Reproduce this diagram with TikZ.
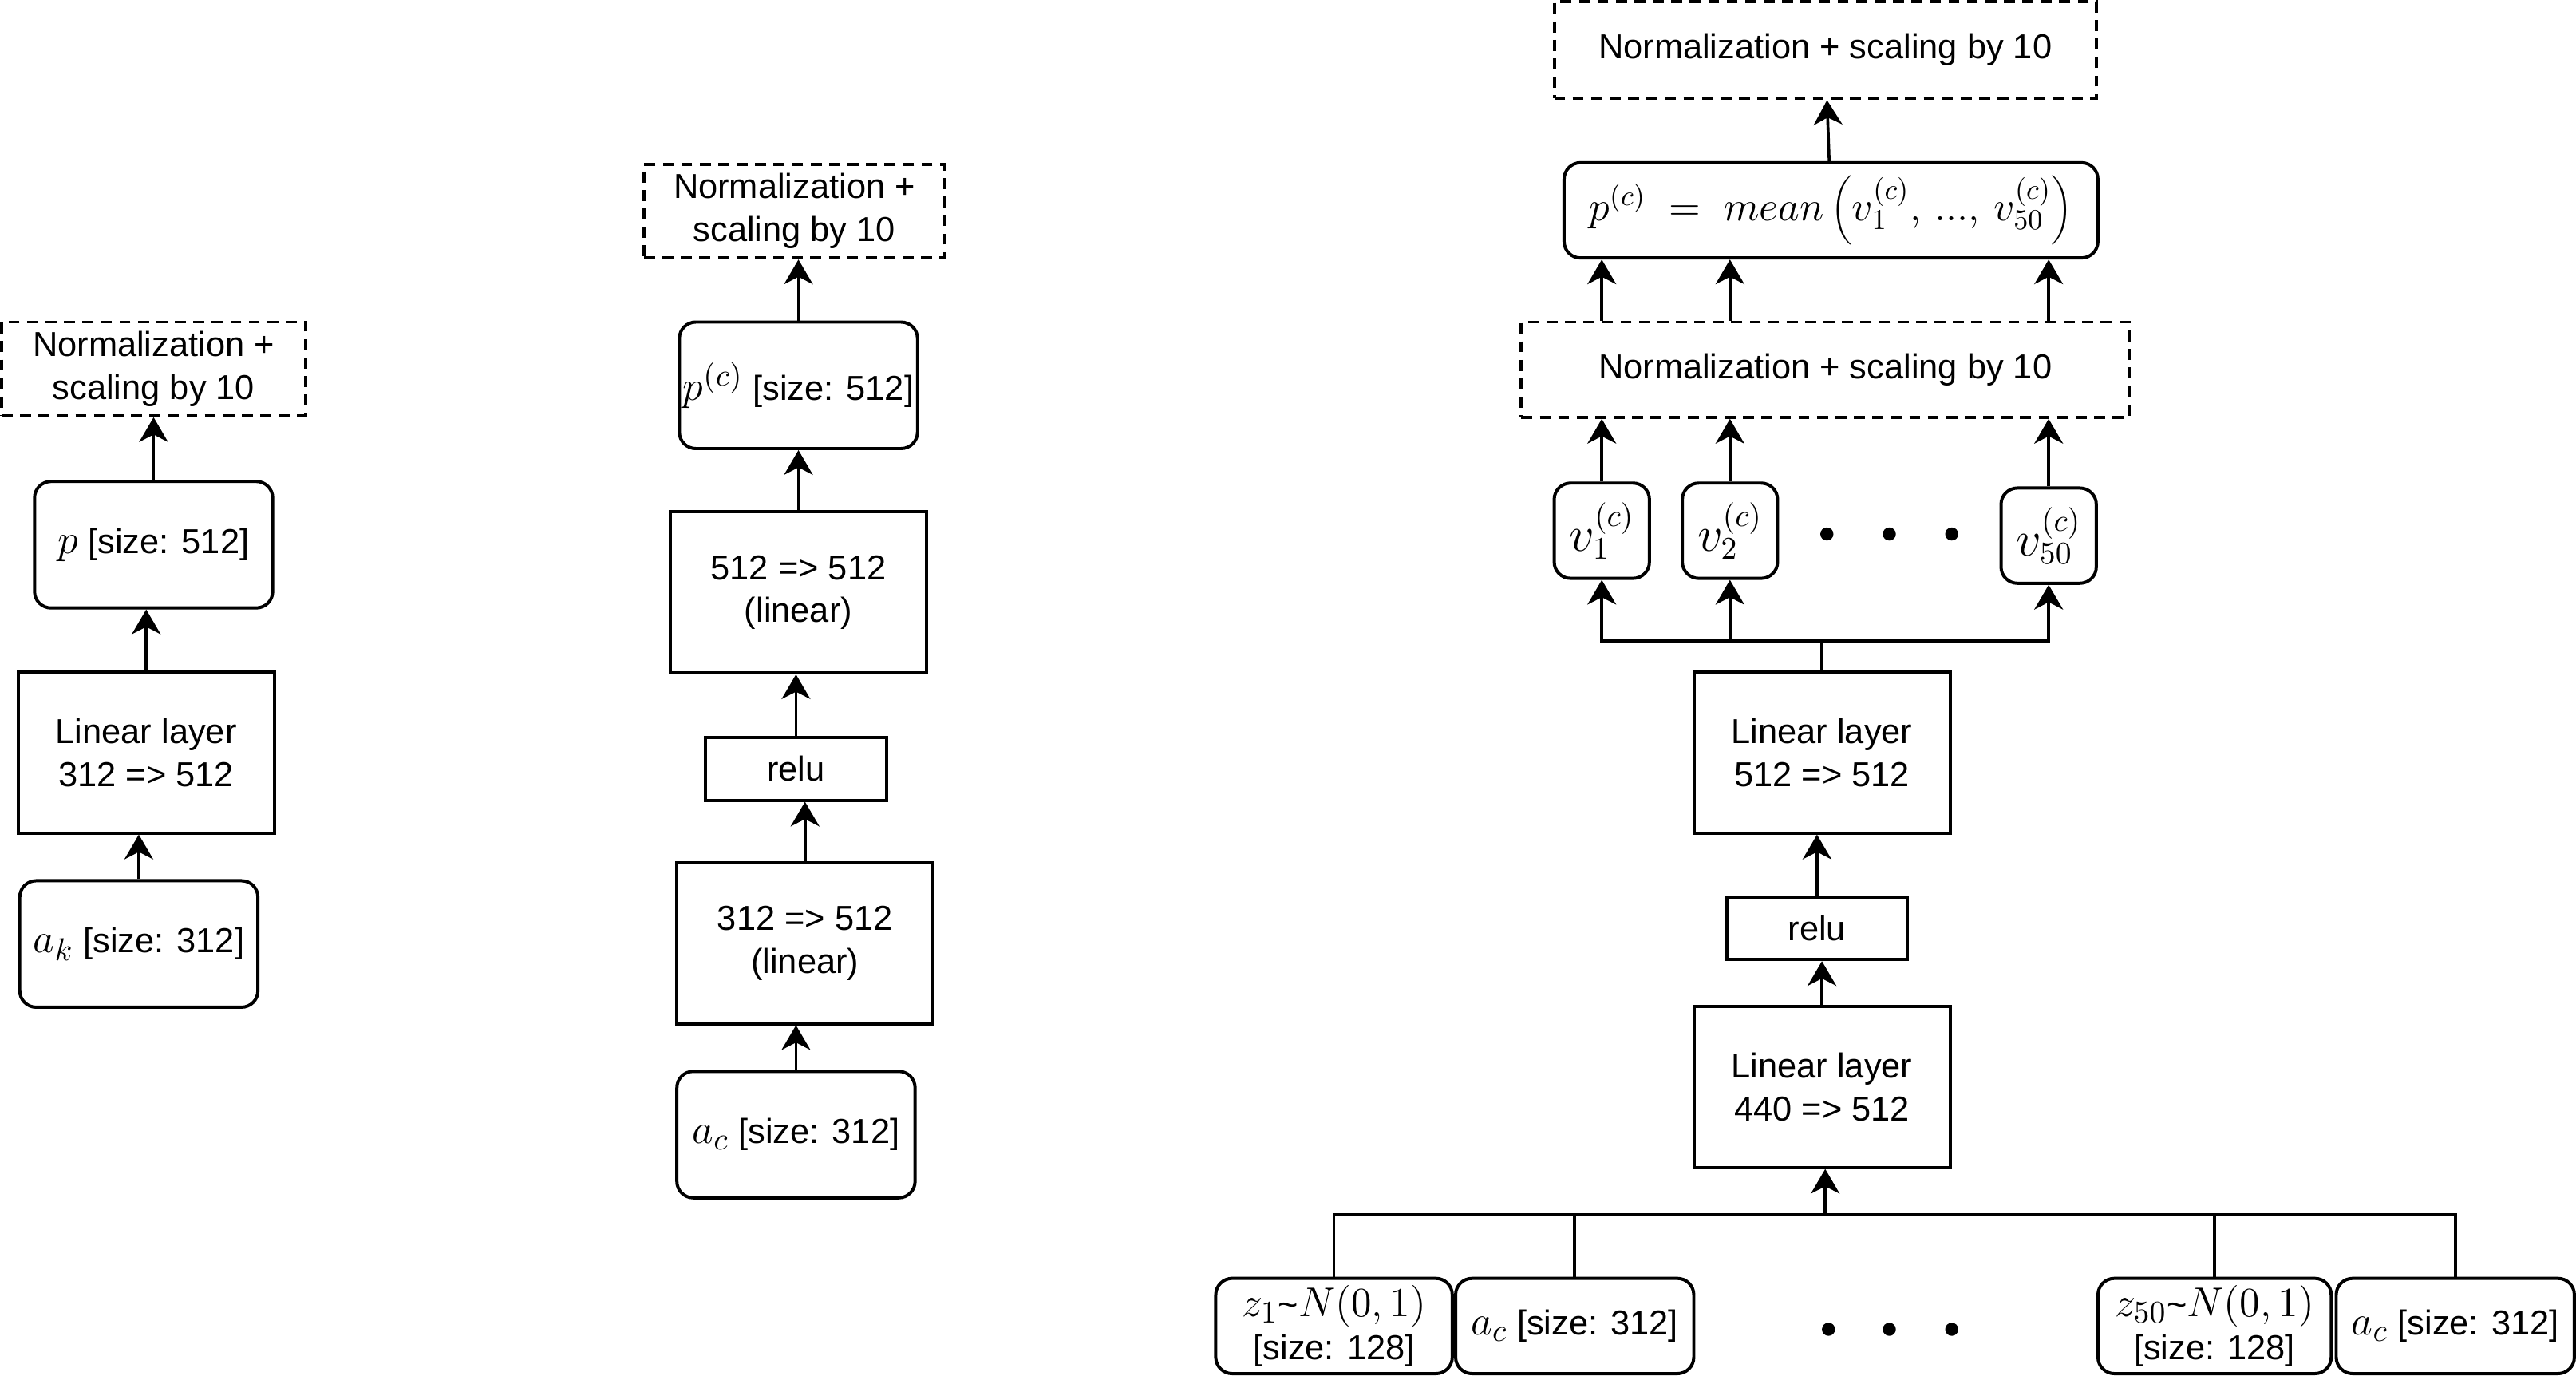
\documentclass[tikz,border=0pt]{standalone}
\usepackage[no-math]{fontspec}
\setmainfont{Liberation Sans}
\usetikzlibrary{arrows.meta}
\newcommand{\mth}[2][15]{{\fontsize{#1}{18}\selectfont$#2$}}
\begin{document}
\begin{tikzpicture}[x=0.02cm, y=-0.02cm,
  every node/.style={font=\fontsize{12}{14.8}\selectfont, align=center, inner sep=0pt},
  layerbox/.style={draw, line width=1.1pt, minimum width=3.12cm, minimum height=1.96cm},
  relubox/.style={draw, line width=1.1pt, minimum width=2.2cm, minimum height=0.76cm},
  valbox/.style={draw, line width=1.1pt, rounded corners=0.2cm, minimum width=2.9cm, minimum height=1.54cm},
  vecbox/.style={valbox, minimum width=1.16cm, minimum height=1.16cm},
  inbox/.style={valbox, minimum width=2.88cm, minimum height=1.16cm},
  normbox/.style={draw, line width=1.1pt, dash pattern=on 3.8pt off 2.6pt, minimum height=1.16cm},
  arr/.style={line width=1pt, -{Stealth[length=0.30cm, width=0.35cm, inset=0.09cm]}},
  link/.style={line width=1pt},
  dot/.style={circle, fill, minimum size=0.16cm},
]
\useasboundingbox (-1,-1) rectangle (1567,836);
% Left column
\node[normbox, minimum width=3.7cm, minimum height=1.14cm] (norm1) at (92.5,223.5) {Normalization +\\scaling by 10};
\node[valbox] (p) at (92.5,330.5) {\mth{p} [size: 512]};
\node[layerbox] (lin1) at (88,457) {Linear layer\\312 => 512};
\node[valbox] (ak) at (83.5,573.5) {\mth{a_k} [size: 312]};
\draw[arr] (ak) -- (ak |- lin1.south);
\draw[arr] (lin1) -- (lin1 |- p.south);
\draw[arr] (p) -- (p |- norm1.south);
% Middle column
\node[normbox, minimum width=3.66cm, minimum height=1.14cm] (norm2) at (482.5,127.5) {Normalization +\\scaling by 10};
\node[valbox] (pc) at (485,233.5) {\mth{p^{(c)}}\ [size: 512]};
\node[layerbox] (lin2b) at (485,359.5) {512 => 512\\(linear)};
\node[relubox] (relu1) at (483.5,467) {relu};
\node[layerbox] (lin2a) at (489,573) {312 => 512\\(linear)};
\node[valbox] (ac1) at (483.5,689.5) {\mth{a_c} [size: 312]};
\draw[arr] (ac1) -- (ac1 |- lin2a.south);
\draw[arr] (lin2a) -- (lin2a |- relu1.south);
\draw[arr] (relu1) -- (relu1 |- lin2b.south);
\draw[arr] (lin2b) -- (lin2b |- pc.south);
\draw[arr] (pc) -- (pc |- norm2.south);
% Right column
\node[normbox, minimum width=6.6cm, minimum height=1.18cm] (norm3top) at (1110,29.5) {Normalization + scaling by 10};
\node[valbox, minimum width=6.5cm, minimum height=1.16cm] (mean) at (1113.5,127) {\mth[14]{p^{(c)}\;=\;mean\left(v_1^{(c)},\,...,\,v_{50}^{(c)}\right)}};
\node[normbox, minimum width=7.4cm] (norm3) at (1110,224) {Normalization + scaling by 10};
\node[vecbox] (v1) at (974,322) {\mth[16]{v_1^{(c)}}};
\node[vecbox] (v2) at (1052,322) {\mth[16]{v_2^{(c)}}};
\node[vecbox] (v50) at (1246,325) {\mth[16]{v_{50}^{(c)}}};
\foreach \x in {1111,1149,1187}
  \node[dot] (vd\x) at (\x,324) {};
\node[layerbox] (lin3b) at (1108,457) {Linear layer\\512 => 512};
\node[relubox] (relu2) at (1105,564) {relu};
\node[layerbox] (lin3a) at (1108,660.5) {Linear layer\\440 => 512};
% Inputs
\node[inbox] (z1) at (811,806) {\mth{z_1}\textasciitilde\mth{N(0, 1)}\\{}[size: 128]};
\node[inbox, minimum width=2.9cm] (ac2) at (957.5,806) {\mth{a_c} [size: 312]};
\foreach \x in {1112,1149,1187}
  \node[dot] (zd\x) at (\x,808) {};
\node[inbox, minimum width=2.84cm] (z50) at (1347,806) {\mth{z_{50}}\textasciitilde\mth{N(0, 1)}\\{}[size: 128]};
\node[inbox, minimum width=2.9cm] (ac3) at (1493.5,806) {\mth{a_c} [size: 312]};
\coordinate (fanin) at (1110,738);
\coordinate (fanout) at (1108,389);
\draw[link] (z1.north) |- (fanin);
\draw[link] (ac2.north) |- (fanin);
\draw[link] (z50.north) |- (fanin);
\draw[link] (ac3.north) |- (fanin);
\draw[arr] (fanin) -- (fanin |- lin3a.south);
\draw[arr] (lin3a) -- (lin3a |- relu2.south);
\draw[arr] (relu2) -- (relu2 |- lin3b.south);
\draw[link] (lin3b) -- (fanout);
\draw[arr] (fanout) -| (v1.south);
\draw[arr] (fanout) -| (v2.south);
\draw[arr] (fanout) -| (v50.south);
\draw[arr] (v1) -- (v1 |- norm3.south);
\draw[arr] (v2) -- (v2 |- norm3.south);
\draw[arr] (v50) -- (v50 |- norm3.south);
\draw[arr] (v1 |- norm3.north) -- (v1 |- mean.south);
\draw[arr] (v2 |- norm3.north) -- (v2 |- mean.south);
\draw[arr] (v50 |- norm3.north) -- (v50 |- mean.south);
\draw[arr] (mean) -- (norm3top);
\end{tikzpicture}
\end{document}
